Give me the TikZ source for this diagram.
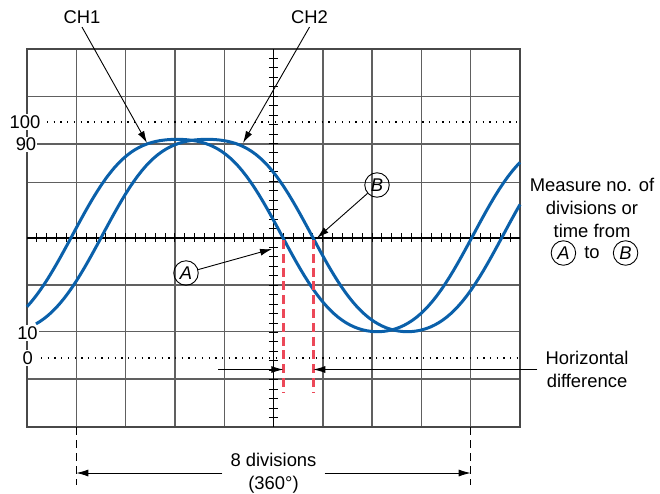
\documentclass[tikz,border=0pt]{standalone}
\usepackage{fontspec}
\setmainfont{Liberation Sans}
\usetikzlibrary{positioning, arrows.meta}

\definecolor{traceblue}{RGB}{10,96,170}
\definecolor{markred}{RGB}{236,72,88}
\definecolor{gridgray}{RGB}{96,96,96}

\tikzset{declare function={wave(\t)=231.22-101.7*cos(\t)+4.28*cos(2*\t)+5.5*cos(3*\t);}}

\begin{document}
\begin{tikzpicture}[
  x=1pt, y=-1pt,
  font=\fontsize{18.4}{22.6}\selectfont,
  gridline/.style={draw=gridgray, line width=1.4pt},
  bezel/.style={draw=gridgray!75!black, line width=1.7pt},
  axisline/.style={draw=black, line width=1.7pt},
  tickmark/.style={draw=black, line width=1pt},
  levelline/.style={draw=black, line width=1.3pt, dash pattern=on 1.3pt off 5.4pt},
  trace/.style={draw=traceblue, line width=3pt, domain=27:520, samples=120},
  phasemark/.style={draw=markred, line width=2.6pt, dash pattern=on 9pt off 4.8pt},
  leader/.style={draw=black, line width=0.9pt, -{Latex[length=12pt, width=7pt]}},
  extline/.style={draw=black, line width=1pt, dash pattern=on 8pt off 5pt},
  scalelbl/.style={fill=white, inner sep=1pt},
  circ/.style={draw, circle, line width=0.9pt, minimum size=24.5pt, inner sep=0pt,
    font=\fontsize{18.4}{22.6}\selectfont\itshape},
  note/.style={align=center, inner sep=8pt},
]
\useasboundingbox (0,0) rectangle (660,493);

% graticule
\foreach \gx in {76.3, 125.6, 174.9, 224.2, 322.8, 372.1, 421.4, 470.7}
  \draw[gridline] (\gx,49) -- (\gx,427);
\foreach \gy in {96.3, 144, 182.7, 285, 331.7, 379}
  \draw[gridline] (27,\gy) -- (520,\gy);
\draw[bezel] (27,49) rectangle (520,427);

% 0 and 100 levels
\draw[levelline] (47,122) -- (520,122);
\draw[levelline] (41,358) -- (520,358);

% centre axes with minor ticks
\draw[axisline] (27,237.7) -- (520,237.7);
\draw[axisline] (273.5,49) -- (273.5,427);
\foreach \i in {1,...,49}
  \draw[tickmark] ({27+9.86*\i},233) -- ({27+9.86*\i},242.4);
\foreach \i in {1,...,39}
  \draw[tickmark] (268.8,{49+9.45*\i}) -- (278.2,{49+9.45*\i});

% CH1 and CH2 traces (period = 8 div)
\draw[trace] plot (\x,{wave(0.8984*(\x-177))});
\draw[trace, domain=36:520] plot (\x,{wave(0.8984*(\x-207))});

% points A and B
\coordinate (mA) at (283.3,240);
\coordinate (mB) at (313.3,240);
\draw[phasemark] (mA) -- ++(0,152);
\draw[phasemark] (mB) -- ++(0,152);

% scale labels
\node[scalelbl] (l100) at (25,122) {100};
\node[scalelbl] (l90) at (26,144.5) {90};
\node[scalelbl] (l10) at (27.5,333) {10};
\node[scalelbl] (l0) at (27.7,358) {0};

% channel callouts
\node (ch1) at (82,17) {CH1};
\node (ch2) at (309.5,17) {CH2};
\coordinate (pk1) at (147,143);
\coordinate (pk2) at (243,143);
\draw[leader] (ch1.south) -- (pk1);
\draw[leader] (ch2.south) -- (pk2);

% A and B callouts
\node[circ] (cA) at (186,273) {A};
\node[circ] (cB) at (377,185) {B};
\coordinate (ptA) at (272,249);
\coordinate (ptB) at (317,238);
\draw[leader] (cA) -- (ptA);
\draw[leader] (cB) -- (ptB);

% measurement note
\node[align=center] (measure) at (592,208) {Measure no. of\\divisions or\\time from};
\node[inner sep=1pt] (to) at (592,253) {to};
\node[circ, left=7pt of to] (cA2) {A};
\node[circ, right=12pt of to] (cB2) {B};

% horizontal difference
\node[note] (hd) at (587,369.5) {Horizontal\\difference};
\coordinate (hdtail) at (218,369.5);
\draw[leader] (hdtail) -- (hdtail -| mA);
\draw[leader] (hd.west) -- (hd.west -| mB);

% one period
\coordinate (ext1) at (76.3,427);
\coordinate (ext2) at (470.7,427);
\draw[extline] (ext1) -- ++(0,58);
\draw[extline] (ext2) -- ++(0,58);
\node[note] (div) at (273.5,473) {8 divisions\\(360°)};
\draw[leader] (div.west) -- (div.west -| ext1);
\draw[leader] (div.east) -- (div.east -| ext2);

\end{tikzpicture}
\end{document}
